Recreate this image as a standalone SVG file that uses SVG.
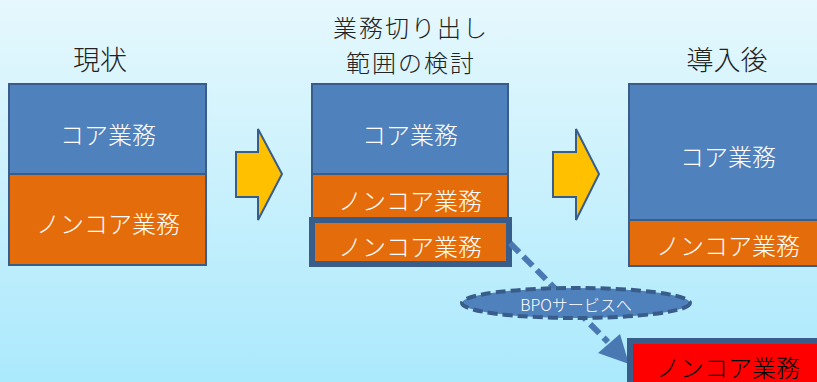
<svg xmlns="http://www.w3.org/2000/svg" width="817" height="382" viewBox="0 0 817 382">
<defs>
<linearGradient id="bg" x1="0" y1="0" x2="0" y2="1">
<stop offset="0" stop-color="#e6f8fd"/>
<stop offset="1" stop-color="#abe9fc"/>
</linearGradient>
</defs>
<style>
text{font-family:"Noto Sans CJK JP","Noto Sans",sans-serif;text-anchor:middle;dominant-baseline:central;font-weight:300}
.t{font-size:27px;fill:#222}
.t2{font-size:24px;fill:#222;letter-spacing:2px}
.l{font-size:24px;fill:#fff}
.core{fill:#4f81bd;stroke:#385d8a;stroke-width:2}
.non{fill:#e46c0a;stroke:#385d8a;stroke-width:2}
.sel{fill:#e46c0a;stroke:#385d8a;stroke-width:6}
.arr{fill:#ffc000;stroke:#385d8a;stroke-width:2}
</style>
<rect width="817" height="382" fill="url(#bg)"/>
<g id="title-current"><text class="t" x="100" y="58">現状</text></g>
<g id="title-scope"><text class="t2" x="411" y="26">業務切り出し</text><text class="t2" x="411" y="61">範囲の検討</text></g>
<g id="title-after"><text class="t" x="727" y="58">導入後</text></g>
<g id="current-core"><rect class="core" x="9" y="84" width="197" height="90"/><text class="l" x="108" y="133">コア業務</text></g>
<g id="current-noncore"><rect class="non" x="9" y="174" width="197" height="91"/><text class="l" x="108" y="222">ノンコア業務</text></g>
<g id="arrow1"><path class="arr" d="M236,152 H258 V129 L282,174 L258,220 V197 H236 Z"/></g>
<g id="scope-core"><rect class="core" x="312" y="84" width="196" height="90"/><text class="l" x="410" y="133">コア業務</text></g>
<g id="scope-noncore"><rect class="non" x="312" y="174" width="196" height="44"/><text class="l" x="410" y="199">ノンコア業務</text></g>
<g id="scope-noncore-bpo"><rect class="sel" x="312" y="220" width="197" height="44"/><text class="l" x="410" y="245">ノンコア業務</text></g>
<g id="arrow2"><path class="arr" d="M553,152 H576 V129 L599,174 L576,220 V197 H553 Z"/></g>
<g id="after-core"><rect class="core" x="629" y="84" width="197" height="136"/><text class="l" x="728" y="155">コア業務</text></g>
<g id="after-noncore"><rect class="non" x="629" y="220" width="197" height="46"/><text class="l" x="728" y="244">ノンコア業務</text></g>
<g id="connectors">
<line x1="510" y1="243" x2="608" y2="342" stroke="#4a78b3" stroke-width="6" stroke-dasharray="13,6"/>
<path d="M598,353 L620,334 L629,364 Z" fill="#4a78b3"/>
</g>
<g id="bpo-label"><ellipse cx="576" cy="303" rx="114" ry="15" fill="#4f81bd" stroke="#385d8a" stroke-width="4" stroke-dasharray="10,5"/><text x="576" y="304" style="font-size:16px;fill:#fff">BPOサービスへ</text></g>
<g id="bpo-noncore"><rect x="630" y="341" width="197" height="50" fill="#ff0000" stroke="#385d8a" stroke-width="6"/><text x="728" y="366" style="font-size:24px;fill:#000">ノンコア業務</text></g>
</svg>
